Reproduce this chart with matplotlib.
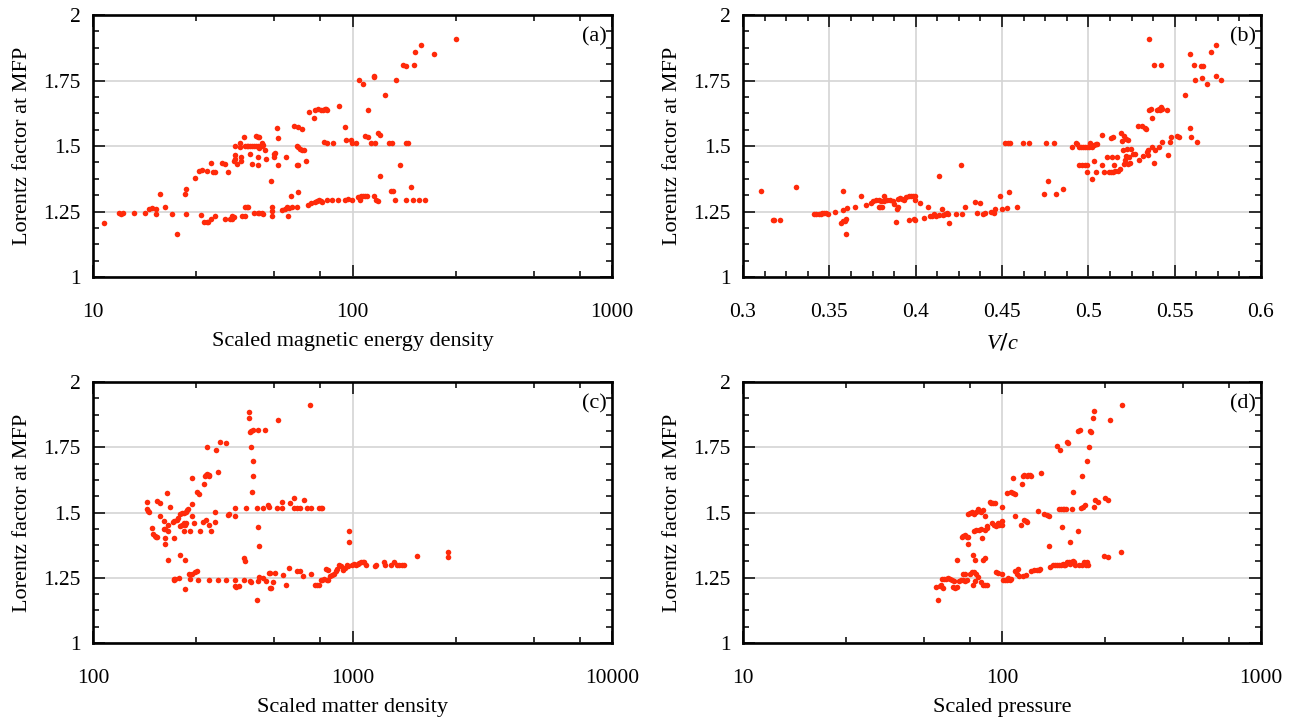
import matplotlib
matplotlib.use("Agg")
import matplotlib.pyplot as plt
from matplotlib.ticker import FixedLocator, NullFormatter

plt.rcParams['font.family'] = ['Liberation Serif', 'DejaVu Serif']
plt.rcParams['mathtext.fontset'] = 'custom'
plt.rcParams['mathtext.it'] = 'Liberation Serif:italic'

# ---------------- data ----------------
# (a) Scaled magnetic energy density vs Lorentz factor
a_x = [11.0, 12.6, 12.8, 13.0, 14.4, 15.8, 16.4, 16.9, 17.5, 17.5, 18.2, 19.0, 20.2, 21.1, 22.6, 22.9, 22.9,
       24.8, 25.6, 26.4, 27.5, 26.1, 26.8, 27.5, 27.7, 28.6, 28.6, 29.6, 29.0, 29.6, 31.3, 32.2, 33.0,
       32.4, 33.7, 34.3, 34.8, 34.3, 35.1, 35.1, 35.1, 34.8, 36.0, 37.0, 37.0, 37.2, 37.2, 38.2,
       37.5, 38.5, 38.5, 39.1, 39.7,
       38.5, 39.1, 39.7, 40.4, 41.0, 41.7, 42.4, 43.1, 43.8, 44.6, 45.3, 44.6, 43.8,
       40.4, 41.0, 42.4, 43.1, 43.8, 41.7, 43.1, 43.8, 44.6, 45.3, 43.4, 43.4, 46.2, 46.5, 48.4,
       49.0, 49.0, 49.0, 49.7, 50.0, 50.3, 51.0, 51.6, 51.6, 53.4, 54.8, 56.1, 57.0, 58.5, 55.2, 56.3, 58.2,
       59.7, 61.9, 64.0, 60.9, 61.9, 63.0, 64.0, 65.0, 60.9, 61.9, 60.9, 61.7, 66.3, 68.1,
       67.6, 69.5, 71.8, 73.0, 74.2, 75.4, 76.6, 70.8,
       71.8, 73.7, 75.4, 77.1, 78.2, 79.2, 79.7, 77.9, 79.7,
       79.7, 83.2, 87.9, 93.3, 96.4, 99.7, 84.0, 89.1, 93.3, 94.6, 99.0, 99.7, 103.0,
       104.7, 107.1, 108.2, 110.0, 111.8, 113.6, 106.4, 109.3, 112.2, 114.4, 115.2, 117.4, 122.1,
       120.5, 123.3, 125.3, 120.5, 121.3, 125.3, 127.5, 127.9, 133.9, 138.4, 142.2, 140.7, 143.1,
       145.5, 146.9, 152.8, 156.8, 160.5, 161.0, 164.2, 161.0, 168.6, 172.0, 170.8, 180.0, 189.7,
       174.2, 184.1, 206.6, 250.0]
a_y = [1.208, 1.244, 1.240, 1.246, 1.246, 1.244, 1.259, 1.263, 1.259, 1.240, 1.317, 1.269, 1.239, 1.163,
       1.317, 1.336, 1.239, 1.377, 1.404, 1.409, 1.404, 1.238, 1.211, 1.211, 1.211, 1.437, 1.221, 1.234,
       1.401, 1.401, 1.434, 1.432, 1.401, 1.221, 1.221, 1.221, 1.230, 1.234, 1.499, 1.467, 1.451, 1.444,
       1.432, 1.511, 1.496, 1.457, 1.444, 1.536, 1.234, 1.234, 1.266, 1.266, 1.266,
       1.499, 1.501, 1.499, 1.499, 1.499, 1.501, 1.499, 1.499, 1.496, 1.501, 1.505, 1.512, 1.492,
       1.470, 1.432, 1.540, 1.534, 1.534, 1.243, 1.244, 1.246, 1.244, 1.240, 1.457, 1.428, 1.483, 1.451, 1.368,
       1.269, 1.253, 1.234, 1.457, 1.470, 1.473, 1.570, 1.529, 1.427, 1.255, 1.259, 1.266, 1.263, 1.266, 1.457,
       1.234, 1.310,
       1.575, 1.572, 1.566, 1.501, 1.496, 1.489, 1.485, 1.483, 1.427, 1.427, 1.269, 1.323, 1.444, 1.630,
       1.276, 1.282, 1.286, 1.291, 1.294, 1.291, 1.285, 1.608,
       1.636, 1.640, 1.639, 1.639, 1.642, 1.640, 1.636, 1.515, 1.512,
       1.294, 1.294, 1.294, 1.294, 1.298, 1.294, 1.511, 1.651, 1.572, 1.521, 1.524, 1.511, 1.511,
       1.304, 1.294, 1.308, 1.309, 1.308, 1.309, 1.751, 1.736, 1.540, 1.534, 1.636, 1.511, 1.511,
       1.309, 1.294, 1.291, 1.764, 1.769, 1.549, 1.543, 1.384, 1.693, 1.511, 1.511, 1.327, 1.330,
       1.294, 1.751, 1.427, 1.808, 1.805, 1.511, 1.511, 1.294, 1.345, 1.811, 1.294, 1.294, 1.294,
       1.857, 1.885, 1.853, 1.907]

# (b) V/c vs Lorentz factor
b_x = [0.3103, 0.3171, 0.3182, 0.3214, 0.3308,
       0.3411, 0.3424, 0.3439, 0.3449, 0.3460, 0.3471, 0.3481, 0.3492, 0.3531,
       0.3565, 0.3578, 0.3591, 0.3599, 0.3582, 0.3582, 0.3603, 0.3599,
       0.3651, 0.3685, 0.3715, 0.3740, 0.3753, 0.3770, 0.3788, 0.3802, 0.3817, 0.3835, 0.3852, 0.3867,
       0.3788, 0.3796, 0.3805, 0.3817, 0.3873, 0.3886, 0.3890, 0.3899,
       0.3899, 0.3912, 0.3920, 0.3933, 0.3946, 0.3959, 0.3974, 0.3984, 0.3995, 0.3997,
       0.3959, 0.3989, 0.3997, 0.4023, 0.4049, 0.4070,
       0.4083, 0.4096, 0.4108, 0.4117, 0.4134, 0.4156, 0.4168, 0.4181, 0.4188,
       0.4138, 0.4151, 0.4194, 0.4233, 0.4260, 0.4271, 0.4284, 0.4344, 0.4370, 0.4357,
       0.4391, 0.4400, 0.4434, 0.4455, 0.4459, 0.4489, 0.4502, 0.4530, 0.4541,
       0.4519, 0.4532, 0.4545, 0.4584, 0.4622, 0.4656, 0.4744, 0.4755, 0.4765, 0.4804, 0.4813, 0.4851,
       0.4905, 0.4930,
       0.4937, 0.4947, 0.4958, 0.4969, 0.4979, 0.4990, 0.5001, 0.5012, 0.5022, 0.5033, 0.5044, 0.5050,
       0.4947, 0.4964, 0.4979, 0.4990, 0.4990, 0.5022, 0.5033, 0.5044,
       0.5082, 0.5082, 0.5093, 0.5108, 0.5119, 0.5129, 0.5136, 0.5140, 0.5151, 0.5157, 0.5166, 0.5172, 0.5183,
       0.5129, 0.5140, 0.5189, 0.5193, 0.5200, 0.5208, 0.5221, 0.5226, 0.5230,
       0.5204, 0.5215, 0.5221, 0.5230, 0.5236, 0.5243, 0.5247, 0.5258, 0.5273,
       0.5290, 0.5311, 0.5328, 0.5294, 0.5315, 0.5333, 0.5337, 0.5343, 0.5345,
       0.5350, 0.5354, 0.5365, 0.5371, 0.5371, 0.5380, 0.5386, 0.5380,
       0.5397, 0.5407, 0.5414, 0.5422, 0.5429, 0.5422, 0.5407, 0.5429,
       0.5457, 0.5461, 0.5472, 0.5478, 0.5514, 0.5525, 0.5557, 0.5589, 0.5589, 0.5594,
       0.5611, 0.5615, 0.5632, 0.5654, 0.5664, 0.5660, 0.5686, 0.5709, 0.5739, 0.5739, 0.5767]
b_y = [1.327, 1.218, 1.218, 1.218, 1.345,
       1.239, 1.240, 1.240, 1.241, 1.243, 1.244, 1.243, 1.240, 1.250,
       1.208, 1.212, 1.215, 1.221, 1.330, 1.255, 1.263, 1.163,
       1.268, 1.308, 1.275, 1.282, 1.291, 1.294, 1.294, 1.291, 1.291, 1.294, 1.294, 1.291,
       1.269, 1.266, 1.266, 1.310, 1.278, 1.211, 1.259, 1.266,
       1.296, 1.301, 1.296, 1.294, 1.304, 1.310, 1.310, 1.310, 1.310, 1.294,
       1.218, 1.221, 1.217, 1.282, 1.227, 1.269,
       1.234, 1.234, 1.240, 1.234, 1.236, 1.238, 1.240, 1.246, 1.240,
       1.384, 1.259, 1.208, 1.240, 1.427, 1.240, 1.266, 1.285, 1.282, 1.244,
       1.240, 1.243, 1.249, 1.246, 1.259, 1.310, 1.259, 1.263, 1.323,
       1.511, 1.511, 1.511, 1.269, 1.511, 1.511, 1.317, 1.511, 1.368, 1.511, 1.317, 1.336,
       1.496, 1.511,
       1.506, 1.498, 1.496, 1.496, 1.496, 1.496, 1.498, 1.511, 1.496, 1.502, 1.508, 1.508,
       1.427, 1.427, 1.427, 1.427, 1.401, 1.375, 1.444, 1.401,
       1.543, 1.428, 1.401, 1.457, 1.401, 1.401, 1.457, 1.401, 1.429, 1.406, 1.457, 1.406, 1.413,
       1.531, 1.534, 1.550, 1.519, 1.485, 1.540, 1.527, 1.489, 1.521,
       1.432, 1.447, 1.460, 1.432, 1.457, 1.434, 1.489, 1.470, 1.470,
       1.575, 1.575, 1.570, 1.447, 1.460, 1.566, 1.476, 1.464, 1.485,
       1.907, 1.636, 1.640, 1.608, 1.498, 1.811, 1.485, 1.434,
       1.636, 1.642, 1.636, 1.649, 1.642, 1.808, 1.498, 1.515,
       1.636, 1.466, 1.515, 1.534, 1.540, 1.536, 1.693, 1.853, 1.570, 1.536,
       1.811, 1.751, 1.515, 1.805, 1.805, 1.761, 1.736, 1.857, 1.885, 1.766, 1.751]

# (c) Scaled matter density vs Lorentz factor
c_x = [162, 162, 163, 164, 169, 170, 173, 175, 177, 176, 181, 181, 187, 188, 190, 190, 190, 193, 194, 195,
       195, 198, 203, 206, 210, 213, 205, 205, 206, 207, 214, 217, 217, 220, 224, 226, 228,
       216, 220, 224, 228, 231, 233, 224, 226, 226, 235, 237, 241, 247, 251, 237, 240, 241, 241, 244,
       251, 256, 254, 259, 265, 268, 270, 272, 275, 277, 279, 280, 273, 275, 279, 281, 286, 294, 296,
       298, 304, 304, 308, 326, 326, 332, 334, 353, 354, 354, 354, 357, 366, 381, 385, 382, 387,
       400, 400, 403, 408, 413, 408, 413, 413, 411, 404, 408, 427, 433, 438, 428, 431, 461,
       431, 438, 453, 453, 465, 471, 476, 484, 481, 492, 503, 476, 481, 513, 534, 517, 534, 541, 556,
       570, 574, 593, 593, 609, 630, 609, 630, 646, 650, 668, 695, 685, 695, 718, 730, 741,
       741, 753, 761, 753, 766, 779, 797, 805, 792, 805,
       818, 832, 846, 860, 874, 888, 903, 918, 933, 949, 964, 971, 971,
       997, 1013, 1030, 1047, 1064, 1082, 1093, 1107, 1129, 1222, 1233,
       1318, 1340, 1407, 1439, 1479, 1517, 1552, 1578, 1765, 2342, 2342]
c_y = [1.540, 1.514, 1.505, 1.501, 1.439, 1.418, 1.409, 1.407, 1.407, 1.543, 1.537, 1.488, 1.469, 1.435,
       1.437, 1.403, 1.381, 1.573, 1.451, 1.428, 1.317, 1.520, 1.463, 1.467, 1.473, 1.480, 1.403, 1.246,
       1.240, 1.246, 1.249, 1.339, 1.450, 1.454, 1.458, 1.454, 1.458,
       1.496, 1.499, 1.499, 1.501, 1.509, 1.512, 1.431, 1.317, 1.208, 1.266, 1.246, 1.266, 1.271, 1.275,
       1.431, 1.633, 1.486, 1.531, 1.458, 1.578, 1.569, 1.243, 1.428, 1.463, 1.610, 1.639, 1.642, 1.646,
       1.642, 1.642, 1.639, 1.473, 1.752, 1.243, 1.454, 1.428, 1.503, 1.463, 1.740, 1.655, 1.240,
       1.771, 1.765, 1.240, 1.492, 1.496, 1.488, 1.518, 1.240, 1.220, 1.215, 1.220, 1.326, 1.313, 1.240,
       1.518, 1.886, 1.861, 1.809, 1.812, 1.815, 1.752, 1.697, 1.639, 1.578, 1.237, 1.233,
       1.518, 1.445, 1.371, 1.166, 1.815, 1.815, 1.237, 1.253, 1.249, 1.518, 1.237, 1.527, 1.522,
       1.211, 1.211, 1.235, 1.269, 1.269, 1.269, 1.518, 1.518, 1.854, 1.541, 1.262, 1.224, 1.288,
       1.535, 1.555, 1.518, 1.518, 1.518, 1.274, 1.274, 1.258, 1.546, 1.518, 1.518, 1.910, 1.266,
       1.221, 1.221, 1.221, 1.518, 1.518, 1.518, 1.240, 1.243, 1.246, 1.243, 1.240, 1.284, 1.281,
       1.258, 1.259, 1.266, 1.275, 1.284, 1.297, 1.294, 1.281, 1.288, 1.297, 1.294, 1.428, 1.387,
       1.297, 1.301, 1.297, 1.304, 1.307, 1.309, 1.312, 1.309, 1.297, 1.294, 1.297,
       1.312, 1.297, 1.297, 1.312, 1.297, 1.297, 1.297, 1.297, 1.332, 1.348, 1.329]

# (d) Scaled pressure vs Lorentz factor
d_x = [55.6, 56.6, 57.4, 58.2, 58.9, 59.3, 59.8, 60.9, 61.9, 63.0, 64.0, 65.0, 64.6, 66.1, 67.2, 66.8,
       68.5, 69.5, 70.8, 72.2, 73.0, 70.8, 71.8, 69.9, 70.8, 71.8, 73.0, 73.7, 74.2,
       74.2, 75.4, 76.6, 77.9, 79.2, 80.5, 81.8, 83.2, 84.6, 75.4, 76.6, 77.9, 79.2, 77.1, 78.7,
       77.1, 78.7, 78.2, 79.7, 81.3, 83.2, 85.9, 87.4, 87.9, 80.5, 83.2, 84.6, 85.9, 87.4, 84.0,
       84.6, 85.9, 85.9, 89.8, 90.9, 92.7, 93.9, 91.8, 93.3, 94.9, 96.4, 97.1, 97.9, 99.7, 100.3,
       94.9, 96.4, 99.7, 100.3, 101.3, 103.0, 104.7, 105.7, 107.1, 108.2,
       104.7, 108.2, 110.0, 111.8, 110.0, 111.8, 114.4, 115.6, 116.7, 112.2, 118.2, 119.4,
       120.5, 122.1, 124.6, 126.2, 127.9, 129.7, 120.5, 123.3, 121.3, 123.3, 125.3,
       129.7, 133.0, 136.2, 138.4, 140.7, 137.4, 141.2, 145.9, 148.8, 151.7, 151.7,
       152.8, 157.8, 160.5, 163.2, 165.9, 168.6, 171.4, 173.0, 175.4, 177.1, 178.9, 181.2, 183.0, 184.9,
       187.3, 189.2, 191.0, 163.2, 167.5, 165.9, 168.6, 171.4, 174.2, 177.1, 170.8, 178.9, 180.0,
       183.0, 186.1, 187.3, 196.0, 197.4, 200.0, 202.0, 205.1, 208.7, 204.0,
       198.6, 204.0, 206.6, 210.8, 213.5, 215.7, 213.5, 216.4, 217.8, 220.8, 223.7, 226.6,
       226.6, 229.6, 235.6, 248.2, 256.6, 250.0, 256.6, 261.8, 289.0, 290.8]
d_y = [1.214, 1.166, 1.220, 1.224, 1.246, 1.211, 1.246, 1.246, 1.249, 1.246, 1.243, 1.237, 1.214, 1.211,
       1.215, 1.317, 1.237, 1.240, 1.240, 1.237, 1.240, 1.266, 1.266, 1.405, 1.409, 1.413, 1.407, 1.405,
       1.381,
       1.496, 1.499, 1.501, 1.496, 1.501, 1.512, 1.505, 1.501, 1.509, 1.266, 1.271, 1.271, 1.266, 1.339,
       1.317, 1.224, 1.237, 1.428, 1.432, 1.432, 1.435, 1.432, 1.441, 1.450, 1.253, 1.233, 1.221, 1.221,
       1.221, 1.403, 1.317, 1.324, 1.488, 1.540, 1.535, 1.537, 1.535, 1.460, 1.454, 1.448, 1.460, 1.454,
       1.460, 1.467, 1.454,
       1.272, 1.269, 1.520, 1.263, 1.240, 1.240, 1.243, 1.249, 1.243, 1.246,
       1.573, 1.578, 1.575, 1.569, 1.633, 1.275, 1.266, 1.284, 1.258, 1.486, 1.454, 1.610,
       1.639, 1.642, 1.639, 1.642, 1.644, 1.639, 1.258, 1.262, 1.473, 1.467, 1.463,
       1.275, 1.279, 1.281, 1.279, 1.284, 1.505, 1.652, 1.496, 1.492, 1.488, 1.371,
       1.290, 1.297, 1.297, 1.297, 1.297, 1.297, 1.301, 1.297, 1.297, 1.301, 1.309, 1.309, 1.301, 1.309,
       1.313, 1.309, 1.297, 1.754, 1.739, 1.514, 1.514, 1.514, 1.514, 1.514, 1.445, 1.771, 1.767,
       1.386, 1.514, 1.578, 1.428, 1.812, 1.815, 1.518, 1.522, 1.527, 1.639,
       1.297, 1.297, 1.309, 1.297, 1.309, 1.297, 1.697, 1.752, 1.812, 1.808, 1.861, 1.889,
       1.522, 1.546, 1.541, 1.332, 1.329, 1.556, 1.546, 1.854, 1.348, 1.910]

y_ticks = [1, 1.25, 1.5, 1.75, 2]
y_ticklabels = ['1', '1.25', '1.5', '1.75', '2']

panels = [
    dict(x=a_x, y=a_y, xlim=(10, 1000), log=True, xticks=[10, 100, 1000], xticklabels=['10', '100', '1000'],
         xlabel='Scaled magnetic energy density', tag='(a)'),
    dict(x=b_x, y=b_y, xlim=(0.3, 0.6), log=False, xticks=[0.3, 0.35, 0.4, 0.45, 0.5, 0.55, 0.6],
         xticklabels=['0.3', '0.35', '0.4', '0.45', '0.5', '0.55', '0.6'], xlabel='$V/c$', tag='(b)'),
    dict(x=c_x, y=c_y, xlim=(100, 10000), log=True, xticks=[100, 1000, 10000], xticklabels=['100', '1000', '10000'],
         xlabel='Scaled matter density', tag='(c)'),
    dict(x=d_x, y=d_y, xlim=(10, 1000), log=True, xticks=[10, 100, 1000], xticklabels=['10', '100', '1000'],
         xlabel='Scaled pressure', tag='(d)'),
]

W, H = 1299, 721
fig = plt.figure(figsize=(W / 100, H / 100), dpi=100)
boxes = [(93, 15, 612, 277), (743, 15, 1261, 277), (93, 382, 612, 643), (743, 382, 1261, 643)]
color = '#ff2a0a'
for p, (l, t, r, b) in zip(panels, boxes):
    ax = fig.add_axes([l / W, (H - b) / H, (r - l) / W, (b - t) / H])
    if p['log']:
        ax.set_xscale('log')
        minors = []
        dec = p['xlim'][0]
        while dec < p['xlim'][1]:
            minors += [dec * 2.5, dec * 5, dec * 7.5]
            dec *= 10
        ax.xaxis.set_minor_locator(FixedLocator(minors))
    else:
        ax.xaxis.set_minor_locator(FixedLocator([0.3 + 0.0125 * i for i in range(25)]))
    ax.xaxis.set_minor_formatter(NullFormatter())
    ax.set_xticks(p['xticks'])
    ax.set_xticklabels(p['xticklabels'])
    ax.set_xlim(*p['xlim'])
    ax.set_ylim(1, 2)
    ax.set_yticks(y_ticks)
    ax.set_yticklabels(y_ticklabels)
    ax.yaxis.set_minor_locator(FixedLocator([1 + 0.0625 * i for i in range(17)]))
    ax.grid(True, which='major', color='#d4d4d4', linewidth=1.2)
    ax.set_axisbelow(True)
    ax.tick_params(which='both', direction='in', top=True, right=True, width=1.1, color='black')
    ax.tick_params(which='major', length=8.5, labelsize=15.5)
    ax.tick_params(which='minor', length=4)
    ax.tick_params(axis='x', which='major', pad=19)
    ax.tick_params(axis='y', which='major', pad=9)
    for s in ax.spines.values():
        s.set_linewidth(1.9)
    ax.scatter(p['x'], p['y'], s=16, color=color, marker='o', linewidths=0, zorder=3)
    ax.set_xlabel(p['xlabel'], fontsize=16, labelpad=7)
    ax.set_ylabel('Lorentz factor at MFP', fontsize=16, labelpad=8)
    ax.text(0.99, 0.915, p['tag'], transform=ax.transAxes, ha='right', va='center', fontsize=16)

fig.savefig('out.png', dpi=100)
